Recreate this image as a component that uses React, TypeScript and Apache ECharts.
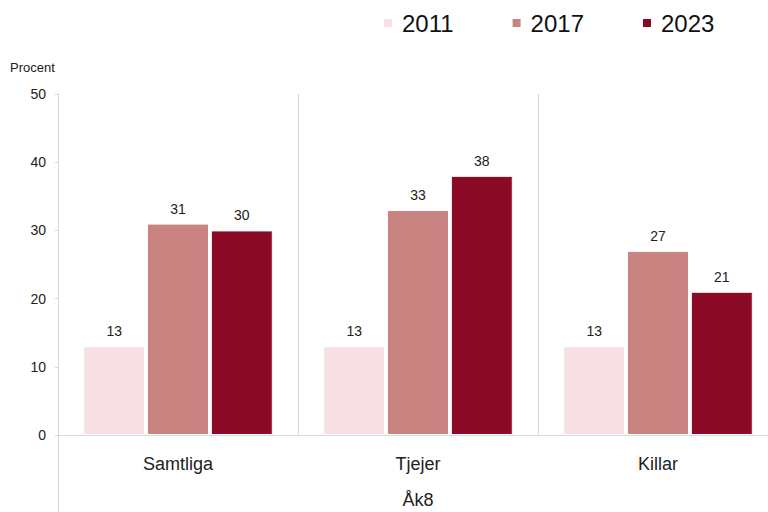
import React, { useEffect, useRef } from "react";
import * as echarts from "echarts";

const categories = ["Samtliga", "Tjejer", "Killar"];
const seriesNames = ["2011", "2017", "2023"];
const values2011 = [13, 13, 13];
const values2017 = [31, 33, 27];
const values2023 = [30, 38, 21];
const colors = ["#f7dfe3", "#c98482", "#8b0a25"];
const yTicks = { min: 0, max: 50, interval: 10 };
const groupLabel = "Åk8";
const yTitle = "Procent";

const FONT = "'Liberation Sans', Arial, sans-serif";

export default function App() {
  const ref = useRef<HTMLDivElement>(null);
  useEffect(() => {
    if (!ref.current) return;
    const chart = echarts.init(ref.current, null, { renderer: "svg" });
    const allValues = [values2011, values2017, values2023];
    chart.setOption({
      animation: false,
      textStyle: { fontFamily: FONT },
      legend: {
        left: 377,
        top: 6,
        icon: "rect",
        itemWidth: 10,
        itemHeight: 10,
        itemGap: 57,
        selectedMode: false,
        textStyle: { fontSize: 24, color: "#111", fontFamily: FONT, padding: [0, 0, 0, 4] },
        data: seriesNames,
      },
      grid: {
        left: 58,
        width: 720,
        top: 94,
        height: 341,
        containLabel: false,
        outerBoundsMode: "none",
      },
      xAxis: {
        type: "category",
        data: categories,
        axisLine: { show: true, lineStyle: { color: "#d9d9d9", width: 1 } },
        axisTick: { show: false },
        splitLine: { show: true, lineStyle: { color: "#d9d9d9", width: 1 } },
        axisLabel: { fontSize: 18, color: "#222", margin: 20, fontFamily: FONT },
      },
      yAxis: {
        type: "value",
        min: yTicks.min,
        max: yTicks.max,
        interval: yTicks.interval,
        axisLine: { show: true, lineStyle: { color: "#d9d9d9", width: 1 } },
        axisTick: { show: true, length: 3, lineStyle: { color: "#d9d9d9" } },
        splitLine: { show: false },
        axisLabel: { fontSize: 14, color: "#222", margin: 12, fontFamily: FONT },
      },
      series: seriesNames.map((name, i) => ({
        name,
        type: "bar",
        data: allValues[i],
        barGap: "3%",
        barCategoryGap: "21%",
        itemStyle: { color: colors[i], borderColor: "#ffffff", borderWidth: 1 },
        label: {
          show: true,
          position: "top",
          distance: 8,
          fontSize: 14,
          color: "#222",
          fontFamily: FONT,
        },
      })),
      graphic: [
        {
          type: "text",
          left: 10,
          top: 61,
          style: { text: yTitle, fontSize: 13, fill: "#222", fontFamily: FONT },
        },
        {
          type: "text",
          x: 418,
          y: 500,
          style: {
            text: groupLabel,
            fontSize: 18,
            fill: "#222",
            fontFamily: FONT,
            align: "center",
            verticalAlign: "middle",
          },
        },
        {
          type: "line",
          shape: { x1: 58.5, y1: 435, x2: 58.5, y2: 512 },
          style: { stroke: "#d9d9d9", lineWidth: 1 },
        },
      ],
    });
    return () => chart.dispose();
  }, []);
  return <div ref={ref} style={{ width: 768, height: 512, position: "absolute", left: 0, top: 0 }} />;
}
